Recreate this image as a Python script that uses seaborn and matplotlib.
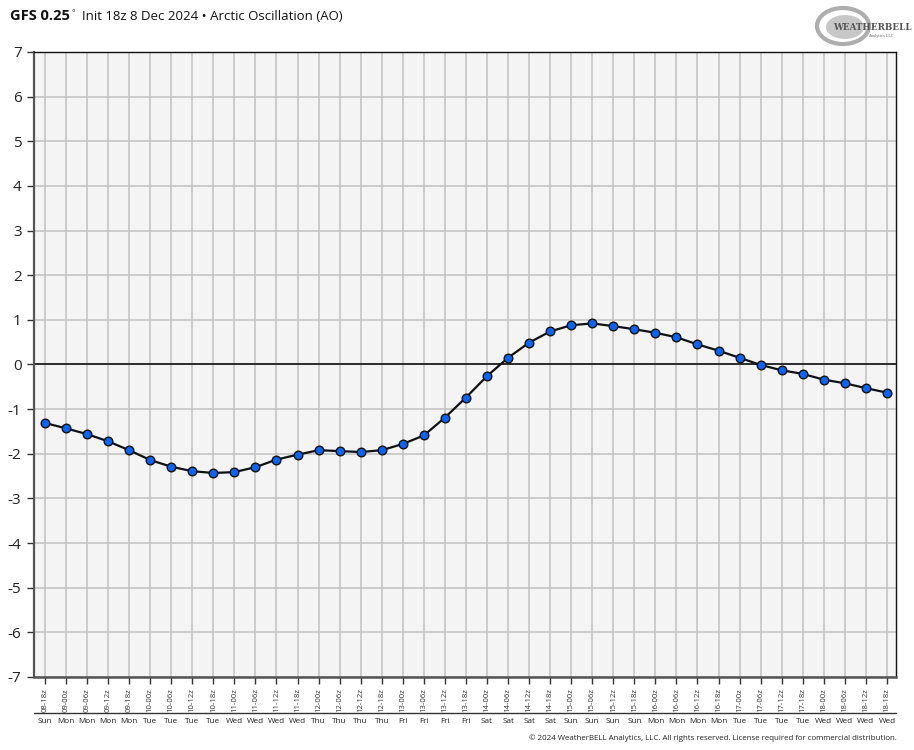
import matplotlib
matplotlib.use("Agg")
import matplotlib.pyplot as plt
import matplotlib.transforms as mtransforms
from matplotlib.patches import Ellipse
import seaborn as sns
import pandas as pd
import numpy as np

# ---- data ----
times = ["08-18z",
         "09-00z", "09-06z", "09-12z", "09-18z",
         "10-00z", "10-06z", "10-12z", "10-18z",
         "11-00z", "11-06z", "11-12z", "11-18z",
         "12-00z", "12-06z", "12-12z", "12-18z",
         "13-00z", "13-06z", "13-12z", "13-18z",
         "14-00z", "14-06z", "14-12z", "14-18z",
         "15-00z", "15-06z", "15-12z", "15-18z",
         "16-00z", "16-06z", "16-12z", "16-18z",
         "17-00z", "17-06z", "17-12z", "17-18z",
         "18-00z", "18-06z", "18-12z", "18-18z"]
days = ["Sun",
        "Mon", "Mon", "Mon", "Mon",
        "Tue", "Tue", "Tue", "Tue",
        "Wed", "Wed", "Wed", "Wed",
        "Thu", "Thu", "Thu", "Thu",
        "Fri", "Fri", "Fri", "Fri",
        "Sat", "Sat", "Sat", "Sat",
        "Sun", "Sun", "Sun", "Sun",
        "Mon", "Mon", "Mon", "Mon",
        "Tue", "Tue", "Tue", "Tue",
        "Wed", "Wed", "Wed", "Wed"]
ao = [-1.31, -1.43, -1.56, -1.72, -1.92, -2.14, -2.29, -2.39, -2.43, -2.41,
      -2.30, -2.13, -2.02, -1.92, -1.94, -1.96, -1.92, -1.78, -1.59, -1.19,
      -0.74, -0.26, 0.15, 0.49, 0.74, 0.88, 0.92, 0.86, 0.79, 0.71,
      0.61, 0.45, 0.31, 0.15, -0.01, -0.13, -0.21, -0.34, -0.42, -0.53, -0.63]
y_ticks = list(range(-7, 8))

df = pd.DataFrame({"idx": np.arange(len(times)), "ao": ao})

sns.set_theme(style="white")
plt.rcParams["font.family"] = ["Open Sans", "DejaVu Sans"]

fig = plt.figure(figsize=(9.14, 7.5), dpi=100)
ax = fig.add_axes([34/914, 1-677/750, (896-34)/914, (677-52)/750])
ax.set_facecolor("#f4f4f4")

# grid
for i in range(len(times)):
    ax.axvline(i, color="#c4c4c4", lw=1.2, zorder=1)
for v in y_ticks:
    ax.axhline(v, color="#c4c4c4", lw=1.2, zorder=1)
ax.axhline(0, color="#111111", lw=1.2, zorder=2)

sns.lineplot(data=df, x="idx", y="ao", ax=ax, color="#111111", linewidth=1.6,
             marker="o", markersize=6.2, markerfacecolor="#0a64f5",
             markeredgecolor="#111111", markeredgewidth=1.0, zorder=5)

ax.set_xlim(-0.52, 40.43)
ax.set_ylim(-7, 7)
ax.set_xlabel("")
ax.set_ylabel("")

ax.set_yticks(y_ticks)
ax.set_yticklabels([str(v) for v in y_ticks], fontsize=11, color="#222222")
ax.set_xticks(range(len(times)))
ax.set_xticklabels(times, rotation=90, fontsize=5.6, color="#333333")
ax.tick_params(axis="y", which="major", left=True, length=5, width=1, color="#333333", pad=4)
ax.tick_params(axis="x", which="major", bottom=True, length=5, width=1, color="#333333", pad=3)

for side, c, w in [("left", "#555555", 1.6), ("bottom", "#555555", 1.8),
                   ("top", "#111111", 1.0), ("right", "#111111", 1.0)]:
    ax.spines[side].set_visible(True)
    ax.spines[side].set_color(c)
    ax.spines[side].set_linewidth(w)

# day row
trans = mtransforms.blended_transform_factory(ax.transData, ax.transAxes)
ax.plot([-0.52, 40.43], [-0.0576, -0.0576], transform=trans, color="#333333",
        lw=1.0, clip_on=False)
for i, d in enumerate(days):
    ax.text(i, -0.0705, d, transform=trans, ha="center", va="center",
            fontsize=5.9, color="#222222")

# title
fig.text(10/914, 1-20/750, "GFS 0.25", fontsize=10.5, fontweight="bold",
         color="#111111", ha="left", va="baseline")
fig.text(72/914, 1-15/750, "°", fontsize=6, color="#111111", ha="left", va="baseline")
fig.text(82/914, 1-20/750, "Init 18z 8 Dec 2024 • Arctic Oscillation (AO)",
         fontsize=9.5, color="#111111", ha="left", va="baseline")

# logo (approximation)
fig.patches.append(Ellipse((843/914, 1-26/750), 52/914, 36/750, transform=fig.transFigure,
                           facecolor="none", edgecolor="#9a9a9a", lw=3, alpha=0.8))
fig.patches.append(Ellipse((845/914, 1-27/750), 38/914, 24/750, transform=fig.transFigure,
                           facecolor="#b0b0b0", edgecolor="none", alpha=0.7))
fig.text(833/914, 1-30/750, "WEATHERBELL", fontsize=6.3, family="DejaVu Serif",
         fontweight="bold", color="#555555", ha="left", va="baseline")
fig.text(868/914, 1-37/750, "Analytics LLC", fontsize=2.6, family="DejaVu Serif",
         color="#666666", ha="left", va="baseline")

# footer
fig.text(897/914, 1-738/750,
         "© 2024 WeatherBELL Analytics, LLC. All rights reserved. License required for commercial distribution.",
         fontsize=5.65, color="#222222", ha="right", va="center")

fig.savefig("out.png", dpi=100)
